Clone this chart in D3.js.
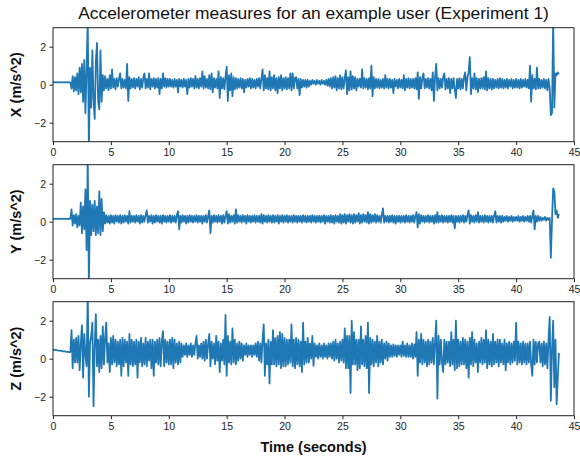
<!DOCTYPE html>
<html>
<head>
<meta charset="utf-8">
<script src="https://cdn.jsdelivr.net/npm/d3@7"></script>
<style>
  body { margin: 0; background: #fff; }
  svg { display: block; font-family: "Liberation Sans", Arial, sans-serif; }
  .tick text { font-size: 10.5px; fill: #222; }
  .tick line { stroke: #222; }
  .domain { display: none; }
</style>
</head>
<body>
<svg id="chart" width="580" height="461"></svg>
<script>
// sample spacing of the readings (seconds), one row = one second
const step = 0.1;

const xTicks = [0, 5, 10, 15, 20, 25, 30, 35, 40, 45];
const yTicks = [-2, 0, 2];
const axisLabels = ["X (m/s^2)", "Y (m/s^2)", "Z (m/s^2)"];

const accX = [
  0.12, 0.13, 0.12, 0.12, 0.13, 0.12, 0.12, 0.13, 0.12, 0.12,
  0.13, 0.12, 0.12, 0.13, 0.12, 0.12, -0.2, 0.45, -0.35, 0.4,
  -0.3, 0.6, -0.5, 0.9, -0.4, 1.1, -0.9, 1.3, -1.5, 0.8,
  3.4, -3.4, 0.9, -1.2, 1.8, -0.8, -1.8, 1.2, 2.2, -0.9,
  -1.3, 1.8, -0.9, 0.5, -0.3, 0.45, -0.2, 0.3, -0.3, 0.5,
  -0.2, 0.8, -0.15, 0.3, -0.25, 0.35, -0.1, 0.3, 0.6, -0.2,
  0.3, -0.15, 0.25, -0.2, 1.1, -0.85, 0.4, -0.2, 0.3, -0.15,
  0.35, -0.2, 0.3, -0.1, 0.4, -0.25, 0.3, -0.15, 0.35, 0.6,
  -0.2, 0.3, -0.15, 0.6, -0.25, 0.3, -0.1, 0.35, -0.2, 0.3,
  -0.15, 0.35, -0.5, 0.3, -0.2, 0.6, -0.1, 0.35, -0.15, 0.3,
  -0.1, 0.3, -0.1, 0.25, -0.15, 0.3, -0.1, 0.25, -0.4, 0.3,
  -0.1, 0.25, -0.15, 0.3, -0.1, 0.25, -0.5, 0.3, -0.15, 0.35,
  -0.1, 0.3, -0.2, 0.45, -0.15, 0.3, -0.2, 0.35, -0.1, 0.7,
  -0.2, 0.45, -0.15, 0.3, -0.2, 0.5, -0.25, 0.6, -0.4, 0.35,
  -0.15, 0.3, -0.2, 0.7, -0.7, 0.4, -0.2, 0.35, -0.25, 0.4,
  0.95, -0.85, 0.5, -0.3, 0.6, -0.6, 0.4, -0.25, 0.35, -0.2,
  0.3, -0.15, 0.35, -0.2, 0.3, -0.4, 0.25, -0.15, 0.3, -0.1,
  0.35, -0.2, 0.3, -0.15, 0.25, -0.2, 0.3, -0.1, 0.35, -0.2,
  0.3, 0.8, -0.3, 0.5, -0.2, 0.35, -0.25, 0.7, -0.3, 0.4,
  -0.2, 0.5, -0.3, 0.35, -0.45, 0.4, -0.2, 0.5, -0.3, 0.35,
  -0.2, 0.4, -0.25, 0.35, -0.2, 0.6, -0.3, 0.6, -0.2, 0.35,
  0.4, -0.2, 0.3, -0.55, 0.3, -0.15, 0.25, -0.1, 0.25, -0.15,
  0.25, -0.1, 0.2, 0.0, 0.25, 0.05, 0.2, 0.0, 0.25, 0.05,
  0.2, 0.0, 0.25, 0.05, 0.2, 0.0, 0.25, -0.05, 0.3, -0.1,
  0.35, -0.2, 0.4, -0.15, 0.45, -0.3, 0.35, -0.2, 0.5, -0.25,
  0.4, -0.2, 0.35, 0.75, -0.5, 0.4, -0.3, 0.7, -0.25, 0.45,
  -0.2, 0.4, -0.3, 0.3, -0.1, 0.3, -0.15, 0.8, -0.2, 0.35,
  -0.15, 0.3, -0.25, 0.35, -0.2, 1.0, -0.6, 0.4, -0.2, 0.3,
  -0.15, 0.3, -0.2, 0.25, -0.15, 0.3, -0.2, 0.5, -0.15, 0.3,
  -0.2, 0.3, -0.15, 0.25, -0.45, 0.3, -0.1, 0.25, -0.2, 0.3,
  -0.15, 0.25, -0.2, 0.5, -0.3, 0.3, -0.15, 0.35, -0.2, 0.3,
  -0.15, 0.3, -0.2, 0.35, -0.25, 0.65, -0.75, 0.4, -0.2, 0.35,
  0.6, -0.2, 0.3, -0.15, 0.35, -0.2, 0.3, -0.3, 0.65, -0.85,
  0.4, 1.1, -0.3, 0.35, -0.2, 0.3, -0.15, 0.4, 0.6, -0.25,
  0.3, -0.2, 0.35, -0.45, 0.3, -0.2, 0.35, -0.25, -0.7, 0.3,
  -0.2, 0.35, -0.25, 0.3, -0.2, 0.4, 0.65, -0.3, 0.4, 0.65,
  1.45, -0.5, 0.35, -0.2, 0.6, -0.25, 0.35, -0.4, 0.3, -0.2,
  0.35, -0.2, 0.4, -0.25, 0.7, -0.3, 0.35, -0.2, 0.3, -0.25,
  0.3, -0.2, 0.25, -0.15, 0.3, -0.2, 0.35, -0.15, 0.3, -0.2,
  0.25, -0.15, 0.3, -0.2, 0.25, -0.1, 0.3, -0.2, 0.25, -0.15,
  0.3, -0.15, 0.25, -0.2, 0.3, -0.15, 0.25, -0.1, 0.3, -0.15,
  0.25, -0.2, 1.0, -0.9, 0.5, -0.2, 0.3, -0.25, 0.9, -0.2,
  0.3, -0.2, 0.25, -0.15, 0.3, -0.2, 0.25, -0.3, 0.3, -0.2,
  -1.6, -1.5, 3.4, -1.2, 0.6, 0.5, 0.65, 0.55
];

const accY = [
  0.15, 0.15, 0.16, 0.15, 0.15, 0.16, 0.15, 0.15, 0.16, 0.15,
  0.15, 0.16, 0.15, 0.15, 0.16, 0.15, 0.65, -0.2, 0.35, -0.1,
  0.4, -0.3, 0.3, -0.2, 1.0, -0.6, 0.8, -0.4, 1.7, -1.5,
  3.4, -3.4, 1.1, -0.7, 0.9, -0.5, 1.1, -0.7, 0.8, -0.6,
  1.6, -0.7, 1.2, -0.5, 0.5, -0.1, 0.35, -0.05, 0.3, -0.1,
  0.35, -0.05, 0.3, -0.1, 0.35, 0.0, 0.3, -0.05, 0.35, -0.1,
  0.3, -0.05, 0.35, 0.0, 0.3, -0.1, 0.55, -0.05, 0.3, 0.0,
  0.3, -0.05, 0.35, 0.0, 0.3, -0.1, 0.35, -0.05, 0.3, 0.0,
  0.35, 0.6, -0.05, 0.3, 0.0, 0.35, -0.1, 0.3, -0.05, 0.35,
  0.0, 0.3, -0.05, 0.3, -0.1, 0.35, 0.0, 0.3, -0.05, 0.3,
  0.0, 0.35, -0.05, 0.3, 0.0, 0.3, -0.05, 0.35, 0.55, -0.4,
  0.3, -0.05, 0.35, 0.0, 0.3, -0.1, 0.3, -0.05, 0.35, 0.0,
  0.3, -0.05, 0.3, 0.0, 0.35, -0.05, 0.3, 0.0, 0.3, -0.1,
  0.3, 0.0, 0.35, -0.05, 0.3, 0.6, -0.6, 0.3, -0.05, 0.35,
  0.0, 0.3, -0.05, 0.35, 0.0, 0.3, -0.1, 0.35, -0.05, 0.3,
  0.55, -0.1, 0.4, -0.05, 0.3, 0.0, 0.35, -0.1, 0.65, -0.05,
  0.35, 0.0, 0.3, -0.05, 0.35, 0.0, 0.3, -0.1, 0.35, 0.0,
  0.3, -0.05, 0.3, 0.0, 0.35, -0.05, 0.3, 0.0, 0.3, -0.05,
  0.4, -0.1, 0.35, 0.0, 0.3, -0.05, 0.35, 0.0, 0.3, -0.05,
  0.35, -0.05, 0.3, 0.0, 0.35, -0.1, 0.3, 0.0, 0.35, -0.05,
  0.3, 0.0, 0.35, -0.05, 0.3, 0.0, 0.3, -0.05, 0.35, 0.0,
  0.3, -0.05, 0.3, 0.0, 0.3, -0.05, 0.35, 0.0, 0.3, -0.05,
  0.3, 0.0, 0.3, -0.05, 0.35, 0.0, 0.3, -0.05, 0.3, 0.0,
  0.3, -0.05, 0.3, 0.0, 0.35, -0.1, 0.3, 0.0, 0.3, -0.05,
  0.35, -0.05, 0.3, -0.1, 0.35, 0.0, 0.3, -0.05, 0.4, -0.1,
  0.35, -0.05, 0.4, -0.1, 0.35, 0.0, 0.4, -0.05, 0.35, -0.1,
  0.4, -0.05, 0.35, 0.0, 0.45, -0.1, 0.35, -0.05, 0.4, 0.0,
  0.35, -0.05, 0.5, -0.1, 0.4, -0.05, 0.35, 0.0, 0.4, -0.05,
  0.35, 0.0, 0.3, -0.05, 0.35, 0.7, -0.05, 0.3, 0.0, 0.3,
  -0.05, 0.3, 0.0, 0.35, -0.05, 0.3, -0.1, 0.3, 0.0, 0.3,
  -0.05, 0.3, 0.0, 0.3, -0.05, 0.35, 0.0, 0.3, -0.05, 0.3,
  0.0, 0.35, -0.05, 0.3, 0.5, -0.3, 0.4, -0.1, 0.35, 0.0,
  0.3, -0.05, 0.3, 0.0, 0.35, -0.05, 0.3, 0.0, 0.3, -0.1,
  0.35, -0.05, 0.5, -0.05, 0.3, 0.0, 0.35, -0.05, 0.3, 0.0,
  0.3, -0.05, 0.3, 0.0, 0.35, -0.05, 0.3, -0.35, 0.3, 0.0,
  0.3, -0.05, 0.3, 0.0, 0.35, -0.05, 0.3, 0.0, 0.35, 0.6,
  -0.1, 0.35, 0.0, 0.3, -0.05, 0.35, 0.0, 0.5, -0.05, 0.3,
  0.0, 0.3, -0.05, 0.35, 0.0, 0.3, -0.05, 0.3, 0.0, 0.3,
  -0.05, 0.3, 0.55, -0.05, 0.3, 0.0, 0.3, -0.05, 0.3, 0.0,
  0.25, 0.05, 0.3, 0.0, 0.25, 0.05, 0.3, 0.0, 0.25, 0.05,
  0.25, 0.05, 0.3, 0.0, 0.25, 0.05, 0.3, 0.0, 0.25, 0.05,
  0.3, 0.0, 0.3, -0.05, 0.3, 0.6, -0.4, 0.3, 0.0, 0.3,
  0.05, 0.25, 0.05, 0.2, 0.1, 0.25, 0.05, 0.2, 0.1, 0.2,
  -1.9, 0.1, 1.75, 1.6, 0.4, 0.6, 0.2, 0.4
];

const accZ = [
  0.48, 0.47, 0.46, 0.45, 0.44, 0.43, 0.42, 0.41, 0.4, 0.39,
  0.38, 0.37, 0.36, 0.36, 0.35, 0.35, 1.5, -0.5, 1.0, -0.2,
  1.1, -0.2, 1.2, -0.6, 0.8, 1.75, -1.0, 1.3, 0.2, -0.4,
  3.4, -2.0, 0.8, 1.2, 1.9, -2.5, 0.6, 2.35, -0.4, 1.0,
  -0.7, 1.2, -0.5, 1.7, -0.3, 1.1, 1.9, -0.2, 0.8, -0.7,
  1.1, -0.3, 1.2, -0.2, 1.0, -0.4, 0.9, -0.3, 1.0, -0.9,
  1.1, -0.4, 1.0, -0.2, 0.9, -0.9, 1.3, -0.3, 1.0, -0.4,
  0.9, -0.3, 1.0, -1.0, 0.9, -0.2, 1.1, -0.4, 0.8, -0.3,
  1.1, -0.4, 0.9, -0.1, 1.0, -0.5, 1.0, -0.9, 0.9, -0.2,
  1.0, -0.3, 1.1, -0.4, 0.9, 1.45, -0.4, 1.0, -0.2, 0.9,
  -0.3, 1.0, -0.3, 1.1, -0.5, 1.0, -0.2, 0.8, -0.3, 0.9,
  -0.2, 0.8, 0.1, 0.7, 0.2, 0.8, 0.1, 0.7, 0.2, 0.8,
  0.1, 0.7, 0.2, 0.8, 1.2, 0.0, 0.7, 0.1, 0.8, 0.0,
  0.9, -0.1, 1.0, 0.0, 0.8, 1.3, -0.4, 0.9, 0.0, 0.8,
  -0.3, 1.2, -0.1, 0.9, -0.7, 0.8, -0.1, 1.0, -0.3, 2.3,
  -0.9, 1.2, -0.2, 0.9, -0.3, 1.6, -0.2, 1.0, -0.3, 0.8,
  -0.1, 0.9, 0.0, 0.8, -0.1, 0.7, 0.2, 0.8, 0.1, 0.7,
  0.2, 0.7, 0.1, 0.7, 0.2, 0.8, 0.1, 0.9, -0.1, 0.8,
  -0.2, 1.0, 1.8, -0.9, 0.8, -0.3, 1.0, -1.3, 0.9, -0.3,
  1.5, -0.3, 1.1, -0.4, 1.2, -0.3, 1.4, -0.5, 1.3, -0.4,
  1.1, -0.4, 1.0, -0.3, 1.0, -0.2, 1.8, -0.4, 1.0, -0.5,
  1.1, -0.3, 1.0, -0.4, 0.9, -0.7, 1.9, -0.3, 0.9, -0.2,
  1.1, -0.2, 0.8, 0.0, 1.2, -0.37, 0.8, 0.1, 0.7, 0.0,
  0.8, 0.1, 0.7, 0.0, 0.8, 0.1, 0.7, 0.0, 0.8, 0.1,
  0.8, 0.0, 0.9, -0.1, 1.0, 0.0, 0.8, -0.2, 0.9, -0.1,
  1.0, -0.2, 1.6, -0.5, 1.2, -0.5, 1.2, -1.8, 2.0, -0.3,
  1.4, -0.3, 1.0, -0.6, 1.0, -0.5, 1.7, -0.3, 1.0, -0.4,
  1.2, -0.5, 1.9, -1.8, 1.1, -0.3, 1.0, -0.4, 0.9, -0.2,
  1.2, -0.4, 0.9, -0.2, 1.0, -0.3, 0.8, 0.0, 0.9, -0.1,
  0.8, 0.1, 0.7, 0.1, 0.75, 0.15, 0.7, 0.1, 0.7, 0.2,
  0.7, 0.1, 0.9, 0.15, 0.7, 0.1, 0.8, 0.1, 0.7, 0.1,
  0.8, 0.0, 0.75, 0.1, 1.4, -0.9, 1.0, -0.2, 1.3, -0.3,
  1.0, -0.2, 0.9, -0.4, 1.0, -0.3, 0.9, -0.2, 1.1, -0.3,
  0.9, 2.0, -2.1, 1.2, -0.3, 1.0, -0.2, -0.7, 1.0, -0.3,
  0.9, -0.2, 0.9, -0.4, 1.4, -0.3, 1.0, -0.6, 2.0, -0.5,
  1.0, -0.4, 0.9, -0.3, 1.1, -0.3, 1.0, -0.5, 0.9, -1.0,
  1.1, -0.3, 1.4, -0.4, 1.0, -0.2, 0.8, -0.7, 0.9, -0.2,
  1.1, -0.3, 1.0, -0.2, 1.5, -0.5, 1.0, -0.3, 0.9, -0.4,
  1.3, -0.3, 0.9, -0.2, 1.0, -0.4, 1.0, -0.2, 0.8, -0.3,
  1.0, -0.6, 0.8, -0.2, 0.9, -0.3, 0.8, -0.2, 0.9, -0.1,
  1.9, -0.3, 0.9, -0.2, 0.8, -0.3, 0.9, -0.2, 0.8, -0.3,
  0.8, -0.2, 0.9, -0.3, -0.9, 1.0, -0.3, 0.9, -0.2, 0.8,
  0.9, -0.2, 0.8, -0.4, 0.9, -0.3, 0.8, -0.5, 1.0, 2.2,
  -2.2, 0.5, 2.0, -1.5, 1.0, -2.4, -1.0, 0.3
];

const series = [accX, accY, accZ];

const svg = d3.select("#chart");
const margin = { left: 53, right: 6 };
const panelTops = [27.7, 164.7, 301.7];
const panelHeight = 114;
const plotW = 580 - margin.left - margin.right;

const x = d3.scaleLinear().domain([0, 45]).range([margin.left, margin.left + plotW]);

// title
svg.append("text")
    .attr("x", margin.left + plotW / 2)
    .attr("y", 19)
    .attr("text-anchor", "middle")
    .attr("font-size", 17.4)
    .attr("fill", "#111")
    .text("Accelerometer measures for an example user (Experiment 1)");

series.forEach((vals, k) => {
    const top = panelTops[k];
    const y = d3.scaleLinear().domain([-3, 3]).range([top + panelHeight, top]);
    const g = svg.append("g");

    g.append("clipPath")
        .attr("id", "clip" + k)
        .append("rect")
        .attr("x", margin.left)
        .attr("y", top)
        .attr("width", plotW)
        .attr("height", panelHeight);

    const line = d3.line()
        .x((d, i) => x(i * step))
        .y(d => y(d));

    g.append("path")
        .datum(vals)
        .attr("clip-path", `url(#clip${k})`)
        .attr("fill", "none")
        .attr("stroke", "#1f77b4")
        .attr("stroke-width", 1.8)
        .attr("stroke-linejoin", "round")
        .attr("d", line);

    // axes
    g.append("g")
        .attr("transform", `translate(0,${top + panelHeight})`)
        .call(d3.axisBottom(x).tickValues(xTicks).tickSize(3.5).tickPadding(3.5));

    g.append("g")
        .attr("transform", `translate(${margin.left},0)`)
        .call(d3.axisLeft(y).tickValues(yTicks).tickSize(3.5).tickPadding(3.5)
            .tickFormat(d => d < 0 ? "\u2212" + Math.abs(d) : d));

    // frame
    g.append("rect")
        .attr("x", margin.left)
        .attr("y", top)
        .attr("width", plotW)
        .attr("height", panelHeight)
        .attr("fill", "none")
        .attr("stroke", "#222")
        .attr("stroke-width", 1);

    // y label
    g.append("text")
        .attr("transform", `translate(21,${top + panelHeight / 2}) rotate(-90)`)
        .attr("text-anchor", "middle")
        .attr("font-size", 14.5)
        .attr("font-weight", "bold")
        .attr("fill", "#111")
        .text(axisLabels[k]);
});

svg.append("text")
    .attr("x", margin.left + plotW / 2)
    .attr("y", 452)
    .attr("text-anchor", "middle")
    .attr("font-size", 14.5)
    .attr("font-weight", "bold")
    .attr("fill", "#111")
    .text("Time (seconds)");
</script>
</body>
</html>
